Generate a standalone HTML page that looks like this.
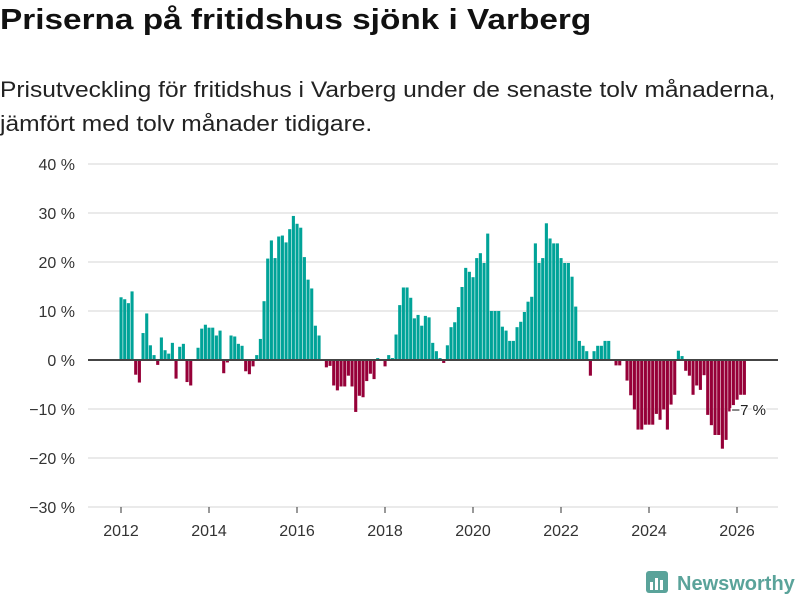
<!DOCTYPE html>
<html><head><meta charset="utf-8"><style>
body{margin:0;width:800px;height:600px;background:#fff;font-family:"Liberation Sans",sans-serif;color:#111;overflow:hidden;position:relative}
h1{position:absolute;left:0;top:4px;margin:0;font-size:29px;font-weight:bold;white-space:nowrap;transform:scaleX(1.15);transform-origin:0 0}
.sub{position:absolute;left:0;top:73px;font-size:22px;line-height:34px;color:#222;white-space:nowrap;transform:scaleX(1.115);transform-origin:0 0}
svg{position:absolute;left:0;top:0}
</style></head><body>
<h1>Priserna på fritidshus sjönk i Varberg</h1>
<div class="sub">Prisutveckling för fritidshus i Varberg under de senaste tolv månaderna,<br>jämfört med tolv månader tidigare.</div>
<svg id="c" width="800" height="600"></svg>
<script>
const startYear = 2012;
const values = [12.8,12.4,11.6,14,-3,-4.6,5.5,9.5,3,1,-1,4.6,2,1.3,3.5,-3.8,2.7,3.3,-4.5,-5.2,0,2.5,6.4,7.2,6.6,6.6,5,6,-2.7,-0.5,5,4.8,3.3,2.9,-2.3,-2.9,-1.3,1,4.3,12,20.7,24.4,20.8,25.2,25.4,24,26.7,29.4,27.8,27,21,16.4,14.6,7,5,
0,-1.5,-1.2,-5.2,-6.2,-5.4,-5.4,-3.2,-5.4,-10.6,-7.3,-7.6,-4.3,-2.8,-3.9,0.4,0,-1.3,1,0.4,5.2,11.2,14.8,14.8,12.7,8.5,9.2,7,9,8.7,3.5,1.8,0.4,-0.6,3,6.7,7.7,10.8,14.9,18.8,18,16.9,20.8,21.8,19.8,25.8,10,10,10,6.8,6,3.9,3.9,6.7,7.8,9.8,11.9,12.9,23.8,19.8,20.8,27.9,24.8,23.8,23.8,
20.8,19.8,19.8,17,10.9,3.9,2.9,1.8,-3.2,1.8,2.9,2.9,3.9,3.9,0,-1.1,-1.1,0,-4.2,-7.2,-10.1,-14.2,-14.2,-13.2,-13.2,-13.2,-11,-12.2,-10.1,-14.2,-9.1,-7.1,1.9,0.8,-2.2,-3.2,-7.1,-5.2,-6.1,-3.1,-11.2,-13.3,-15.3,-15.3,-18.1,-16.3,-10.5,-9.2,-8.1,-7.1,-7.1];
const yTicks = [-30,-20,-10,0,10,20,30,40];
const xTicks = [2012,2014,2016,2018,2020,2022,2024,2026];
const lastLabel = "−7 %";
const NS="http://www.w3.org/2000/svg", svg=document.getElementById('c');
const y = v => 360 - v*4.9;
const x = t => 121 + (t-2012)*44;
function el(t,a,p){const e=document.createElementNS(NS,t);for(const k in a)e.setAttribute(k,a[k]);(p||svg).appendChild(e);return e;}
yTicks.forEach(v=>{
  const g=el('line',{x1:88,x2:778,y1:y(v),y2:y(v),stroke:'#ddd','stroke-width':1.3});
  
  
  const t=el('text',{x:75,y:y(v)+6,'text-anchor':'end','font-size':16,fill:'#333'});
  t.textContent=(v<0?'−'+(-v):v)+' %';
  
  
});
xTicks.forEach(v=>{
  const l=el('line',{x1:x(v),x2:x(v),y1:507,y2:513,stroke:'#333'});
  
  
  const t=el('text',{x:x(v),y:536,'text-anchor':'middle','font-size':16,fill:'#333'});
  t.textContent=v;
  
  
});
values.forEach((v,i)=>{
  const cx=x(startYear+i/12);
  const b=el('rect',{x:cx-1.5,y:Math.min(y(v),360),width:3.1,height:Math.abs(y(v)-360),fill:v>=0?'#00a398':'#960038'});
  
  
});
const z=el('line',{x1:88,x2:778,y1:360,y2:360,stroke:'#444','stroke-width':2});


const lx=x(startYear+(values.length-1)/12);
const lab=el('text',{x:lx-13,y:y(values[values.length-1])+20,'font-size':15,fill:'#222',stroke:'#fff','stroke-width':3,'paint-order':'stroke'});
lab.textContent=lastLabel;


</script>
<svg width="800" height="600">
<rect x="646" y="571" width="22" height="22" rx="3" fill="#5aa39a"/>
<rect x="650" y="582" width="3" height="8" fill="#fff"/><rect x="655" y="578" width="3" height="12" fill="#fff"/><rect x="660" y="580" width="3" height="10" fill="#fff"/>
<text x="677" y="590" font-size="20" font-weight="bold" fill="#5aa39a" font-family="Liberation Sans, sans-serif">Newsworthy</text>
</svg>
</body></html>
